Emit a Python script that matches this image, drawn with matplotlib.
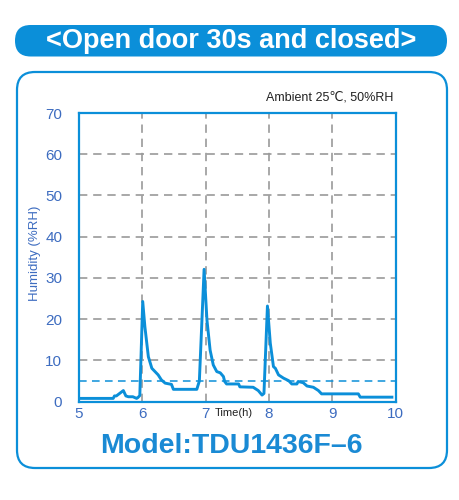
import numpy as np
import matplotlib
matplotlib.use("Agg")
import matplotlib.pyplot as plt
from matplotlib.patches import FancyBboxPatch

# data
time_h = [5.0, 5.54, 5.56, 5.59, 5.70, 5.74, 5.78, 5.85, 5.91, 5.93, 5.96, 6.006,
          6.04, 6.095, 6.15, 6.2, 6.25, 6.30, 6.36, 6.46, 6.49, 6.86, 6.9, 6.975,
          7.02, 7.07, 7.12, 7.175, 7.23, 7.28, 7.3, 7.33, 7.52, 7.54, 7.75, 7.83,
          7.89, 7.92, 7.975, 8.02, 8.07, 8.1, 8.15, 8.23, 8.31, 8.36, 8.44, 8.46,
          8.54, 8.6, 8.7, 8.78, 8.83, 9.41, 9.44, 9.94]
humidity = [0.8, 0.8, 1.4, 1.4, 2.7, 1.4, 1.2, 1.2, 0.8, 1.0, 1.5, 24.3,
            18.2, 10.9, 8.1, 7.3, 6.5, 5.3, 4.5, 4.2, 3.0, 3.0, 5.0, 32.1,
            19.8, 12.5, 8.9, 7.3, 7.0, 6.1, 4.9, 4.3, 4.3, 3.6, 3.5, 2.7,
            1.6, 2.0, 23.2, 14.2, 8.5, 8.1, 6.5, 5.7, 5.1, 4.3, 4.3, 4.9,
            4.6, 3.8, 3.5, 2.7, 1.9, 1.9, 1.1, 1.1]
ref_level = 5
x_ticks = [5, 6, 7, 8, 9, 10]
y_ticks = [0, 10, 20, 30, 40, 50, 60, 70]

blue = "#0b8fd9"
tick_blue = "#3d6cc0"
lib = ["Liberation Sans", "DejaVu Sans"]

fig = plt.figure(figsize=(4.6, 5.0), dpi=100)

# background layer in pixel coordinates
bg = fig.add_axes([0, 0, 1, 1], zorder=0)
bg.set_xlim(0, 460)
bg.set_ylim(500, 0)
bg.axis("off")
bg.add_patch(FancyBboxPatch((15, 25), 432, 31.5, boxstyle="round,pad=0,rounding_size=15.7",
                            fc=blue, ec="none"))
bg.text(231, 41.5, "<Open door 30s and closed>", color="white", fontsize=19.5,
        fontweight="bold", ha="center", va="center", family=lib)
bg.add_patch(FancyBboxPatch((17, 72), 430, 396, boxstyle="round,pad=0,rounding_size=18",
                            fc="none", ec=blue, lw=1.6))
bg.text(231, 446, "Model:TDU1436F\u20136", color="#1a8ad4", fontsize=20.5,
        fontweight="bold", ha="center", va="center", family=lib)
bg.text(393, 97, "Ambient 25\u2103, 50%RH", fontsize=9, ha="right", va="center",
        color="#222222", family=lib)
bg.text(215, 413, "Time(h)", fontsize=8, ha="left", va="center", color="#222222",
        family=lib)
bg.text(35, 253, "Humidity (%RH)", fontsize=9.5, rotation=90, ha="center", va="center",
        color=tick_blue, family=lib)

ax = fig.add_axes([79 / 460, 1 - 401.7 / 500, (395.7 - 79) / 460, (401.7 - 113) / 500], zorder=1)
ax.patch.set_alpha(0)
ax.plot(time_h, humidity, color=blue, lw=2.1, zorder=3)
ax.axhline(ref_level, color=blue, lw=1.1, ls=(0, (5, 3.5)), zorder=2)
for xv in x_ticks[1:-1]:
    ax.axvline(xv, color="#9a9a9a", lw=1.2, ls=(0, (5, 3.5)), zorder=1)
for yv in y_ticks[1:-1]:
    ax.axhline(yv, color="#9a9a9a", lw=1.2, ls=(0, (5, 3.5)), zorder=1)

ax.set_xlim(5, 10)
ax.set_ylim(0, 70)
ax.set_xticks(x_ticks)
ax.set_yticks(y_ticks)
ax.tick_params(length=0, labelsize=11, labelcolor=tick_blue)
for lab in ax.get_xticklabels() + ax.get_yticklabels():
    lab.set_family(lib)
ax.tick_params(axis="y", pad=12)
ax.tick_params(axis="x", pad=4)
for s in ax.spines.values():
    s.set_color(blue)
    s.set_linewidth(1.6)

fig.savefig("out.png", dpi=100)
